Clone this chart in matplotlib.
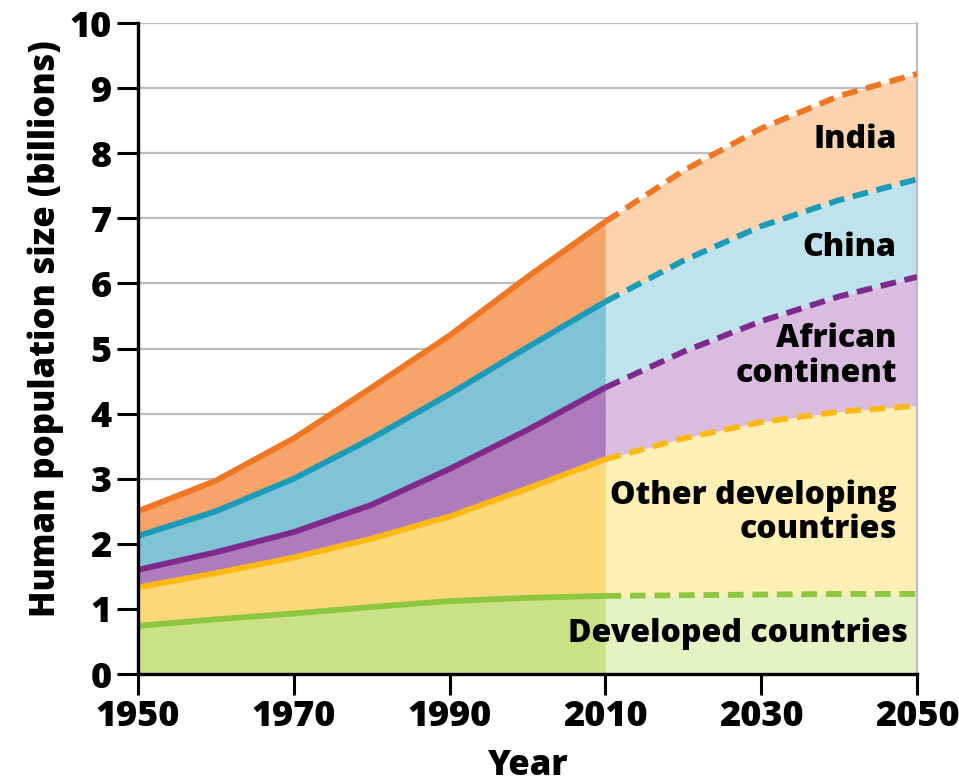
import numpy as np
import matplotlib.pyplot as plt

plt.rcParams['font.family'] = ['Open Sans', 'DejaVu Sans']
plt.rcParams['font.weight'] = 800

# data (cumulative tops of each band, billions)
years = [1950, 1960, 1970, 1980, 1990, 2000, 2010, 2020, 2030, 2040, 2050]
developed = [0.74, 0.84, 0.93, 1.03, 1.12, 1.17, 1.20, 1.21, 1.22, 1.23, 1.23]
other_dev = [1.33, 1.55, 1.79, 2.08, 2.42, 2.85, 3.30, 3.62, 3.87, 4.03, 4.12]
africa = [1.60, 1.87, 2.18, 2.60, 3.15, 3.75, 4.40, 4.95, 5.42, 5.80, 6.10]
china = [2.12, 2.50, 3.00, 3.62, 4.30, 5.02, 5.72, 6.35, 6.88, 7.28, 7.60]
india = [2.50, 2.97, 3.62, 4.40, 5.20, 6.10, 6.95, 7.73, 8.38, 8.88, 9.22]

labels = ['Developed countries', 'Other developing\ncountries',
          'African\ncontinent', 'China', 'India']
label_y = [0.62, 2.48, 4.88, 6.55, 8.2]
line_colors = ['#8DC63F', '#FDB913', '#7E2A8B', '#1A9BB8', '#EF7622']
fill_dark = ['#CBE185', '#FDD879', '#AE7CBD', '#80C2D6', '#F7A46B']
fill_light = ['#E6F1C4', '#FEF0B5', '#DABCE0', '#BFE3EC', '#FCD3AE']

split = years.index(2010)
tops = [developed, other_dev, africa, china, india]

fig = plt.figure(figsize=(9.59, 7.83), dpi=100)
ax = fig.add_axes([0.1439, 0.1392, 0.8123, 0.8314])

x = np.array(years)
lower = np.zeros(len(years))
for top, fd, fl in zip(tops, fill_dark, fill_light):
    top = np.array(top)
    ax.fill_between(x[:split + 1], lower[:split + 1], top[:split + 1],
                    color=fd, lw=0, zorder=2)
    ax.fill_between(x[split:], lower[split:], top[split:],
                    color=fl, lw=0, zorder=2)
    lower = top

for top, lc in zip(tops, line_colors):
    ax.plot(x[:split + 1], top[:split + 1], color=lc, lw=4.2,
            solid_capstyle='butt', solid_joinstyle='round', zorder=4)
    ax.plot(x[split:], top[split:], color=lc, lw=4.2,
            linestyle=(0, (2.7, 1.5)), dash_capstyle='butt', zorder=4)

for lab, ly in zip(labels, label_y):
    xr = 2048.8 if lab.startswith('Developed') else 2047.4
    ax.text(xr, ly, lab, ha='right', va='center', fontsize=23,
            fontweight=800, linespacing=1.1, zorder=5)

ax.set_xlim(1950, 2050)
ax.set_ylim(0, 10)
ax.set_xticks([1950, 1970, 1990, 2010, 2030, 2050])
ax.set_yticks(range(0, 11))
ax.yaxis.grid(True, color='#BDBDBD', lw=1.6, zorder=0)
ax.set_axisbelow(True)

for side in ['left', 'bottom']:
    ax.spines[side].set_linewidth(2.4)
    ax.spines[side].set_color('black')
ax.spines['top'].set_visible(False)
ax.spines['right'].set_color('#BDBDBD')
ax.spines['right'].set_linewidth(1.6)
ax.spines['left'].set_zorder(6)
ax.spines['bottom'].set_zorder(6)

ax.tick_params(axis='both', length=15, width=2.2, labelsize=26, color='black')
ax.tick_params(axis='x', pad=3)
ax.tick_params(axis='y', pad=4)
for t in ax.get_xticklabels() + ax.get_yticklabels():
    t.set_fontweight(800)

ax.set_xlabel('Year', fontsize=25, fontweight=800, labelpad=9)
ax.set_ylabel('Human population size (billions)', fontsize=25,
              fontweight=800)
ax.yaxis.set_label_coords(-0.095, 0.53)

fig.savefig('out.png', dpi=100)
